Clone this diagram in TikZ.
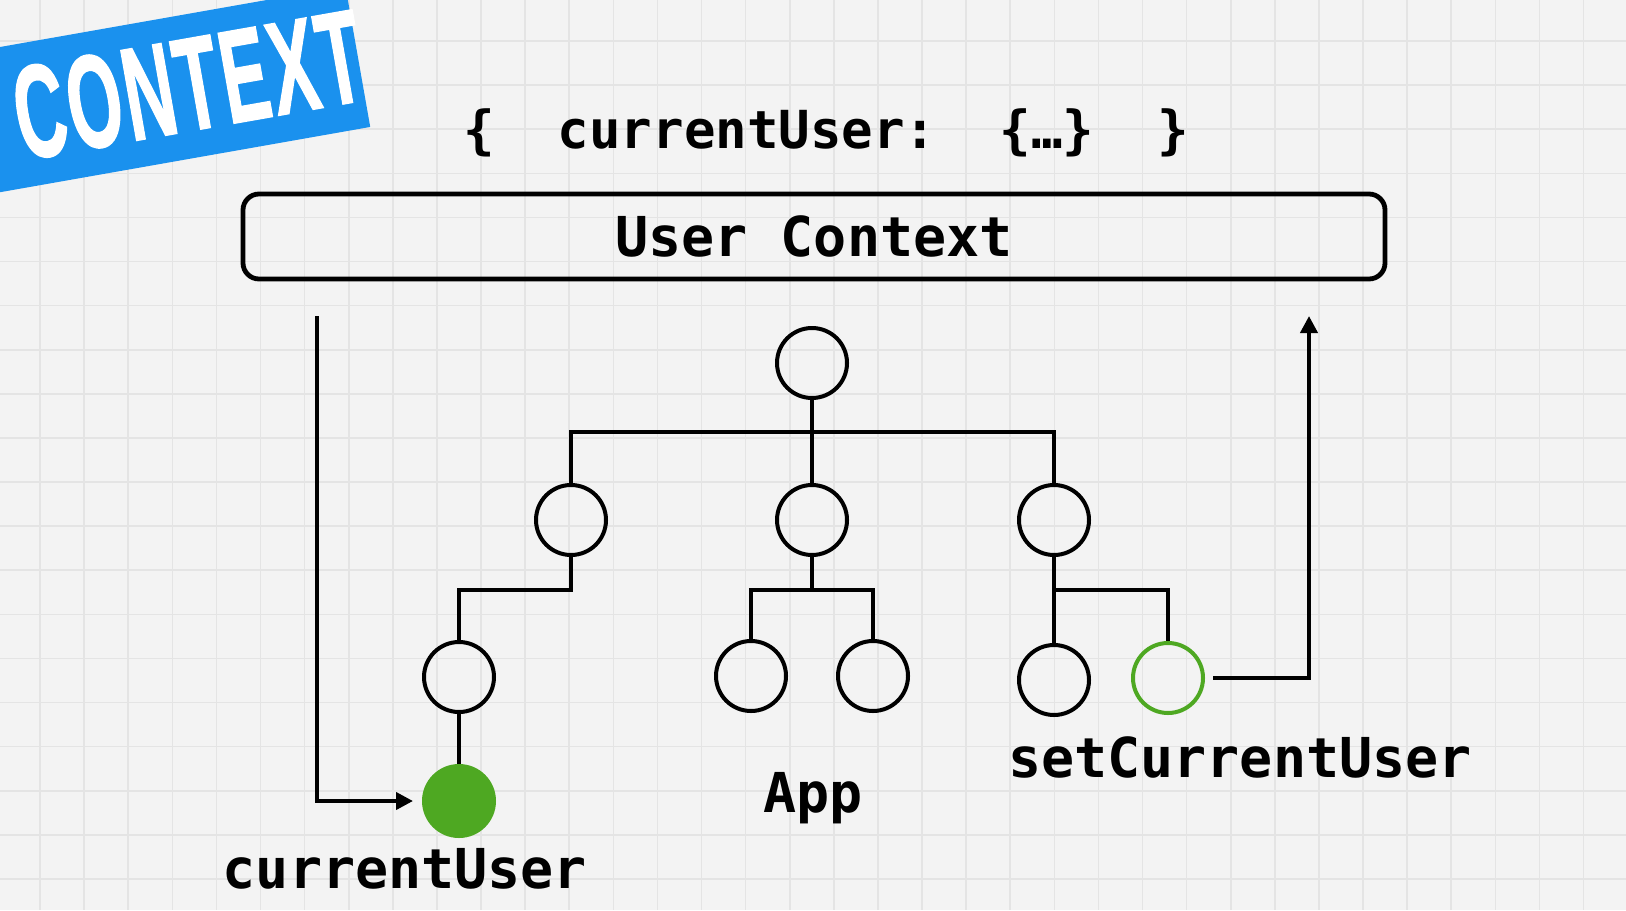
\documentclass[tikz,border=0pt]{standalone}
\usepackage{fontspec}
\usepackage{graphicx}
\usetikzlibrary{arrows.meta}
\newfontfamily\codefont{DejaVu Sans Mono}
\newfontfamily\badgefont{Liberation Sans}[BoldFeatures={FakeBold=1.5},LetterSpace=4]
\definecolor{paper}{RGB}{243,243,243}
\definecolor{paperline}{RGB}{228,228,228}
\definecolor{ctxblue}{RGB}{26,145,238}
\definecolor{usergreen}{RGB}{78,168,34}
\begin{document}
\begin{tikzpicture}[x=0.5pt,y=-0.5pt]
	\tikzstyle{comp}=[circle,draw=black,line width=2pt,minimum size=35pt,inner sep=0pt]
	\tikzstyle{edge}=[draw,line width=2pt]
	\tikzstyle{flow}=[draw,line width=2pt,-{Triangle[length=8.5pt,width=8.5pt]}]
	\tikzstyle{codetext}=[font=\codefont\bfseries\fontsize{27.5}{30}\selectfont,inner sep=0pt,anchor=base]
	\tikzstyle{ctxbox}=[draw,rounded corners=8pt,line width=2.4pt,minimum width=571pt,minimum height=42.5pt,inner sep=0pt,font=\codefont\bfseries\fontsize{27.5}{30}\selectfont]
	\tikzstyle{badgetext}=[rotate=10,inner sep=0pt,font=\badgefont\bfseries\fontsize{66}{70}\selectfont]
	\clip (0,0) rectangle (1626,910);
	\fill[paper] (0,0) rectangle (1626,910);
	\foreach \gx in {40,84.1,...,1626} \draw[paperline,line width=0.8pt] (\gx,0) -- (\gx,910);
	\foreach \gy in {41,85.1,...,910} \draw[paperline,line width=0.8pt] (0,\gy) -- (1626,\gy);
	% badge
	\node[rotate=10,fill=ctxblue,minimum width=210pt,minimum height=71.5pt] (badge) at (151,93) {};
	\node[badgetext,text=white] (badgeword) at (188,85) {\scalebox{0.53}[1]{CONTEXT}};
	% context value and provider
	\node[codetext,font=\codefont\bfseries\fontsize{26.2}{30}\selectfont] (state) at (826,148) {\{~~currentUser:~~\{…\}~~\}};
	\node[ctxbox] (ctx) at (814,236.5) {User Context};
	% component tree
	\node[comp] (root) at (812,363) {};
	\node[comp] (left) at (571,520) {};
	\node[comp] (mid) at (812,520) {};
	\node[comp] (right) at (1054,520) {};
	\node[comp] (leftkid) at (459,677) {};
	\node[comp,draw=usergreen,fill=usergreen] (consumer) at (459,801) {};
	\node[comp] (midkid1) at (751,676) {};
	\node[comp] (midkid2) at (873,676) {};
	\node[comp] (rightkid) at (1054,680) {};
	\node[comp,draw=usergreen] (setter) at (1168,678) {};
	\coordinate (topbar) at (812,432);
	\coordinate (leftbar) at (459,590);
	\coordinate (midbar) at (812,590);
	\coordinate (rightbar) at (1168,590);
	\coordinate (readfrom) at (317,316);
	\coordinate (writeto) at (1309,316);
	\path[edge] (root) -- (mid);
	\path[edge] (left) |- (topbar) -| (right);
	\path[edge] (left) |- (leftbar) -- (leftkid);
	\path[edge] (leftkid) -- (consumer);
	\path[edge] (mid) -- (midbar);
	\path[edge] (midkid1) |- (midbar) -| (midkid2);
	\path[edge] (right) -- (rightkid);
	\path[edge] (right) |- (rightbar) -- (setter);
	% read and write
	\path[flow,shorten >=4.5pt] (readfrom) |- (consumer);
	\path[flow,shorten <=4pt] (setter) -| (writeto);
	\node[codetext] (readlabel) at (405,888) {currentUser};
	\node[codetext] (applabel) at (813,812) {App};
	\node[codetext] (writelabel) at (1240,777) {setCurrentUser};
\end{tikzpicture}
\end{document}
